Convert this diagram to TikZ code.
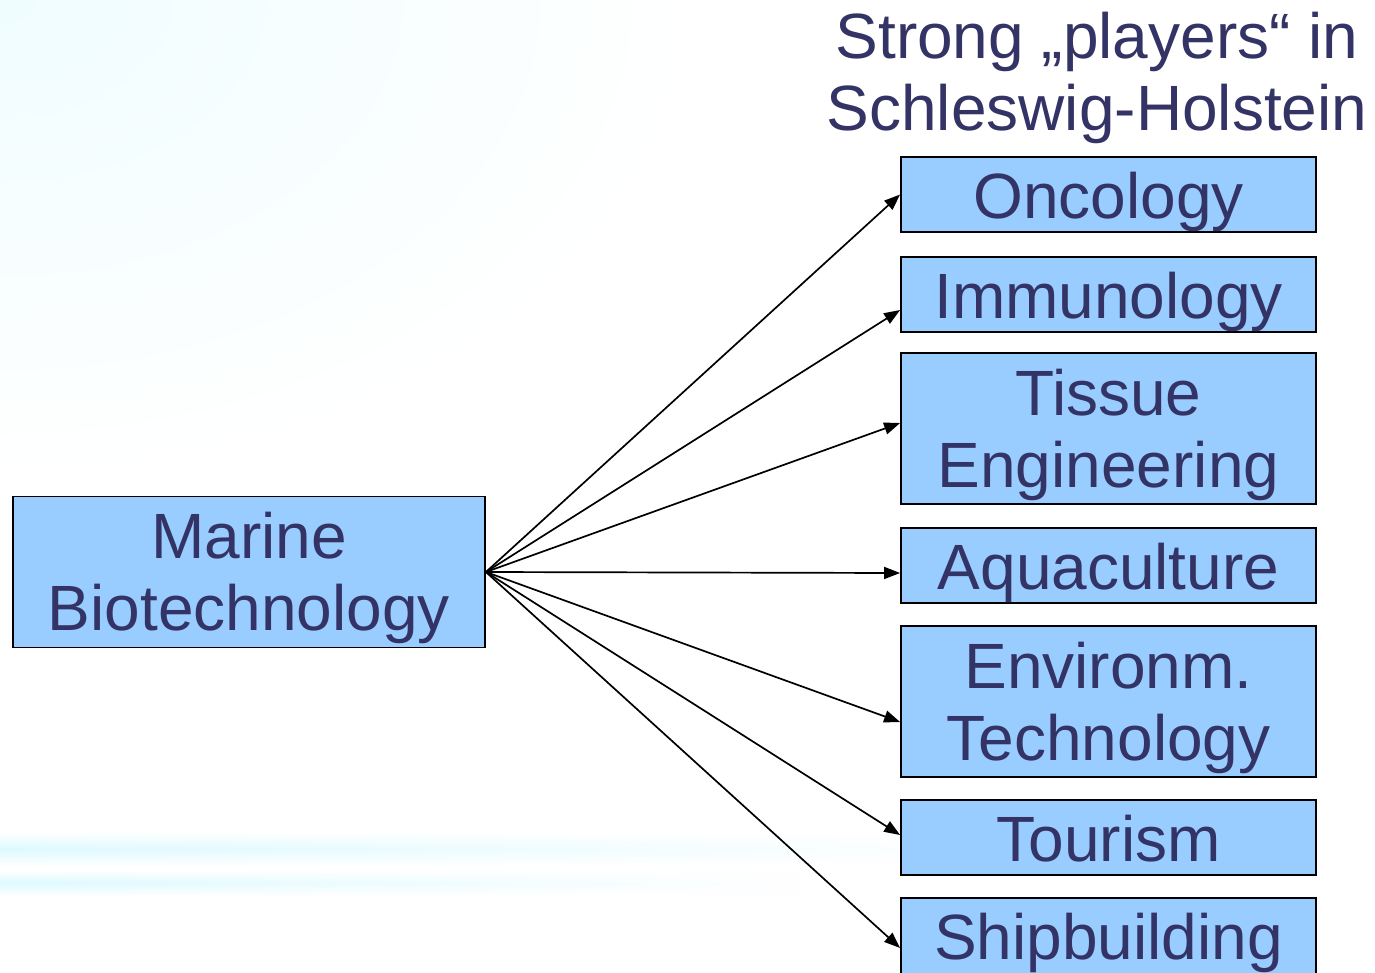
\documentclass[tikz,border=0pt]{standalone}
\usepackage{fontspec}
\setmainfont{Liberation Sans}
\usetikzlibrary{arrows.meta,fadings}
\definecolor{boxblue}{HTML}{99CCFF}
\definecolor{ink}{HTML}{333366}
\definecolor{haze}{HTML}{DDFAFF}

% centred stack of lines, baseline on the first line, 72pt apart
\newcommand\boxtext[1]{\begin{tabular}[t]{@{}c@{}}#1\end{tabular}}

\tikzfading[name=thin out, left color=transparent!0, right color=transparent!100]

\begin{document}
\begin{tikzpicture}[x=1pt,y=-1pt,
  big/.style={font=\fontsize{64}{72}\selectfont, text=ink},
  box/.style={big, draw=black, line width=1.8pt, fill=boxblue,
    minimum width=415pt, minimum height=75pt, inner sep=0pt,
    text height=47pt, text depth=0pt},
  tall/.style={minimum height=151pt, text depth=74pt},
  link/.style={line width=1.7pt, -{Triangle[length=16pt,width=12pt]}},
  streak/.style={top color=white, bottom color=white, middle color=haze, path fading=thin out},
]
\useasboundingbox (0,0) rectangle (1375,972);
\clip (0,0) rectangle (1375,972);

% soft background
\fill[white] (0,0) rectangle (1375,972);
\shade[inner color=haze!45, outer color=white] (-700,-480) rectangle (700,480);
\shade[streak] (0,832) rectangle (1000,866);
\shade[streak] (0,870) rectangle (800,896);

% heading
\node[big, anchor=base, inner sep=0pt] (title) at (1097,58)
  {\boxtext{Strong „players“ in\\Schleswig-Holstein}};

% source
\node[box, tall, minimum width=472pt] (mar) at (249,572) {\boxtext{Marine\\Biotechnology}};

% fields
\node[box] (onc) at (1108.5,194.5) {\boxtext{Oncology}};
\node[box] (imm) at (1108.5,294.5) {\boxtext{Immunology}};
\node[box, tall] (tis) at (1108.5,428.5) {\boxtext{Tissue\\Engineering}};
\node[box] (aqu) at (1108.5,565.5) {\boxtext{Aquaculture}};
\node[box, tall] (env) at (1108.5,701.5) {\boxtext{Environm.\\Technology}};
\node[box] (tou) at (1108.5,837.5) {\boxtext{Tourism}};
\node[box, minimum height=90pt, text depth=15pt] (shi) at (1108.5,943) {\boxtext{Shipbuilding}};

% links
\draw[link] (mar.east) -- (onc.west);
\draw[link] (mar.east) -- ([yshift=-15.5pt]imm.west);
\draw[link] (mar.east) -- ([yshift=5.5pt]tis.west);
\draw[link] (mar.east) -- ([yshift=-7.5pt]aqu.west);
\draw[link] (mar.east) -- ([yshift=-20.5pt]env.west);
\draw[link] (mar.east) -- ([yshift=2.5pt]tou.west);
\draw[link] (mar.east) -- ([yshift=-5pt]shi.west);
\end{tikzpicture}
\end{document}
